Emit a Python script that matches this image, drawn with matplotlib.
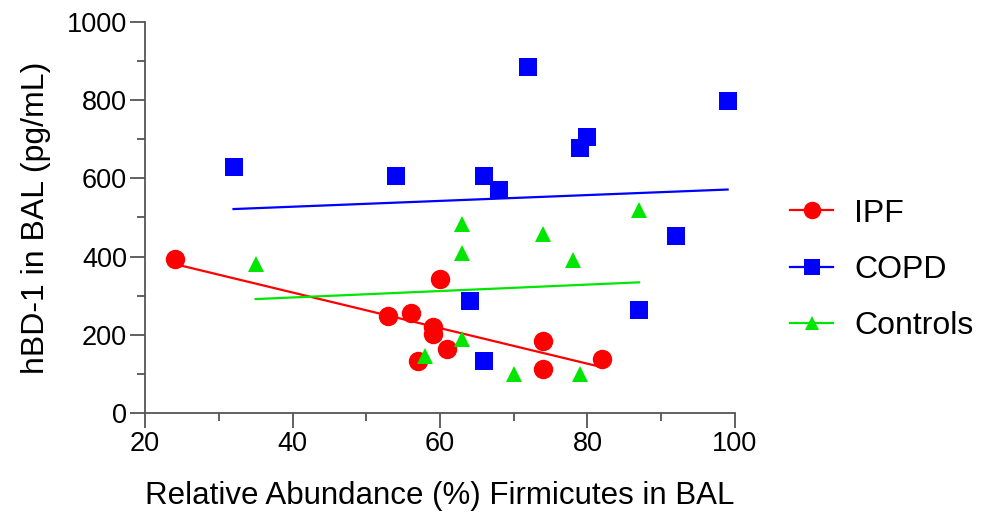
import matplotlib
matplotlib.use('Agg')
import matplotlib.pyplot as plt, numpy as np
from matplotlib.ticker import MultipleLocator

plt.rcParams['font.family'] = ['Liberation Sans', 'DejaVu Sans']

# Relative abundance (%) Firmicutes vs hBD-1 (pg/mL)
ipf_x = [24, 53, 56, 60, 59, 59, 61, 57, 74, 74, 82]
ipf_y = [395, 249, 255, 342, 221, 201, 164, 132, 184, 112, 138]

copd_x = [32, 54, 66, 68, 72, 79, 80, 99, 92, 64, 87, 66]
copd_y = [628, 606, 606, 571, 884, 678, 707, 797, 453, 287, 263, 133]

ctrl_x = [35, 63, 63, 74, 78, 87, 63, 58, 70, 79]
ctrl_y = [381, 483, 410, 459, 391, 518, 190, 145, 100, 100]

groups = [
    ('IPF', ipf_x, ipf_y, '#ff0000', 'o', 14),
    ('COPD', copd_x, copd_y, '#0000ff', 's', 13.5),
    ('Controls', ctrl_x, ctrl_y, '#00e600', '^', 11),
]

fig = plt.figure(figsize=(9.9, 5.16), dpi=100)
ax = fig.add_axes([0.1465, 0.1996, 0.5959, 0.7578])

for name, x, y, col, mk, ms in groups:
    x = np.array(x, dtype=float)
    y = np.array(y, dtype=float)
    # linear regression line across the data range
    slope, icpt = np.polyfit(x, y, 1)
    xf = np.array([x.min(), x.max()])
    ax.plot(xf, slope * xf + icpt, color=col, lw=1.6, zorder=2)
    ax.plot(x, y, linestyle='none', marker=mk, ms=ms, color=col,
            markeredgewidth=0, clip_on=False, zorder=3)
    # legend proxy
    ax.plot([], [], color=col, lw=1.6, marker=mk, ms=ms * 0.9,
            markeredgewidth=0, label=name)

ax.set_xlim(20, 100)
ax.set_ylim(0, 1000)
ax.xaxis.set_major_locator(MultipleLocator(20))
ax.xaxis.set_minor_locator(MultipleLocator(10))
ax.yaxis.set_major_locator(MultipleLocator(200))
ax.yaxis.set_minor_locator(MultipleLocator(100))

for s in ['top', 'right']:
    ax.spines[s].set_visible(False)
for s in ['left', 'bottom']:
    ax.spines[s].set_color('#555555')
    ax.spines[s].set_linewidth(1.3)

ax.tick_params(which='major', length=11, width=1.3, color='#555555',
               labelsize=19.5, pad=2)
ax.tick_params(which='minor', length=5.5, width=1.3, color='#555555')

ax.set_xlabel('Relative Abundance (%) Firmicutes in BAL', fontsize=22.5, labelpad=17)
ax.set_ylabel('hBD-1 in BAL (pg/mL)', fontsize=23, labelpad=11)

fig.legend(loc='center left', bbox_to_anchor=(0.798, 0.477), frameon=False,
           fontsize=23, handlelength=1.35, handletextpad=0.65,
           labelspacing=0.82, borderpad=0, borderaxespad=0)

fig.savefig('out.png', dpi=100)
